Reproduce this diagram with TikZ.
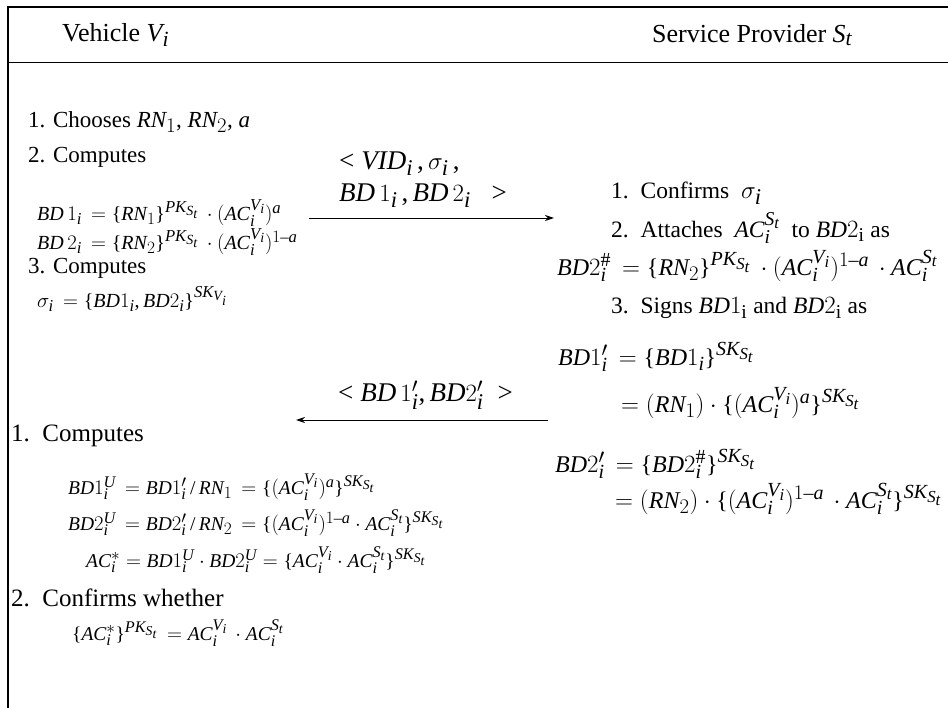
\documentclass[tikz,border=0pt]{standalone}
\usepackage{fontspec}
\setmainfont{Liberation Serif}
\usepackage[italic]{mathastext}
\usetikzlibrary{arrows.meta}
\begin{document}
\begin{tikzpicture}[x=1pt,y=-1pt,
  hdr/.style={anchor=west,inner sep=0pt,font=\fontsize{26}{30}\selectfont},
  txt/.style={anchor=west,inner sep=0pt,font=\fontsize{23}{27}\selectfont},
  txb/.style={anchor=west,inner sep=0pt,font=\fontsize{25}{29}\selectfont},
  txr/.style={anchor=west,inner sep=0pt,font=\fontsize{23.5}{27}\selectfont},
  eqs/.style={anchor=west,inner sep=0pt,font=\fontsize{20}{24}\selectfont},
  eqf/.style={anchor=west,inner sep=0pt,font=\fontsize{19.5}{23}\selectfont},
  eqb/.style={anchor=west,inner sep=0pt,font=\fontsize{24}{28}\selectfont},
  msg/.style={anchor=west,inner sep=0pt,font=\fontsize{27}{31}\selectfont},
  frame/.style={line width=2.5pt},
  sep/.style={line width=1pt},
  flow/.style={-{Stealth[length=9pt,width=6pt]},line width=0.9pt}]
\useasboundingbox (0,0) rectangle (948,708);

% outer frame and header rule
\draw[frame] (8,708) -- (8,7) -- (948,7);
\draw[sep] (8,63) -- (948,63);

% column headers
\node[hdr] (hv) at (62,35) {Vehicle $V_i$};
\node[hdr] (hs) at (652,35) {Service Provider $S_t$};

% vehicle: first phase
\node[txt] (c1) at (28,122) {1. Chooses $RN_1$, $RN_2$, $a$};
\node[txt] (c2) at (28,157) {2. Computes};
\node[eqs] (e1) at (37,213) {$BD\,1_i\,=\{RN_1\}^{PK_{S_t}}\,\cdot(AC_i^{V_i})^a$};
\node[eqs] (e2) at (37,242) {$BD\,2_i\,=\{RN_2\}^{PK_{S_t}}\,\cdot(AC_i^{V_i})^{1-a}$};
\node[txt] (c3) at (28,268) {3. Computes};
\node[eqs] (e3) at (37,299) {$\sigma_i\,=\{BD1_i, BD2_i\}^{SK_{V_i}}$};

% first message
\coordinate (m1s) at (309,218);
\coordinate (m1e) at (554,218);
\draw[flow] (m1s) -- (m1e);
\node[msg] (l1a) at (339,164) {$<VID_i\,,\sigma_i\,,$};
\node[msg] (l1b) at (339,196) {$BD\,1_i\,, BD\,2_i\;\;>$};

% service provider
\node[txr] (r1) at (611,193) {1.\ \ Confirms \ {\fontsize{27}{30}\selectfont$\sigma_i$}};
\node[txr] (r2) at (611,228) {2.\ \ Attaches \ $AC_i^{S_t}$\ \ to $BD2_{\mathrm{i}}$ as};
\node[eqb] (r3) at (557,266) {$BD2_i^{\#}\,=\{RN_2\}^{PK_{S_t}}\,\cdot(AC_i^{V_i})^{1-a}\,\cdot AC_i^{S_t}$};
\node[txr] (r4) at (611,308) {3.\ \ Signs $BD1_{\mathrm{i}}$ and $BD2_{\mathrm{i}}$ as};
\node[eqb] (r5) at (558,357) {$BD1_i^{\prime}\,=\{BD1_i\}^{SK_{S_t}}$};
\node[eqb] (r6) at (621,403) {$=(RN_1)\cdot\{(AC_i^{V_i})^a\}^{SK_{S_t}}$};
\node[eqb] (r7) at (555,464) {$BD2_i^{\prime}\,=\{BD2_i^{\#}\}^{SK_{S_t}}$};
\node[eqb] (r8) at (615,499) {$=(RN_2)\cdot\{(AC_i^{V_i})^{1-a}\,\cdot AC_i^{S_t}\}^{SK_{S_t}}$};

% second message
\coordinate (m2s) at (548,420);
\coordinate (m2e) at (296,420);
\draw[flow] (m2s) -- (m2e);
\node[msg] (l2) at (338,395) {$<BD\,1_i^{\prime}, BD2_i^{\prime}\;>$};

% vehicle: second phase
\node[txb] (d1) at (11,436) {1.\ \ Computes};
\node[eqf] (f1) at (68,487) {$BD1_i^U\,=BD1_i^{\prime}\,/\,RN_1\,=\{(AC_i^{V_i})^a\}^{SK_{S_t}}$};
\node[eqf] (f2) at (68,523) {$BD2_i^U\,=BD2_i^{\prime}\,/\,RN_2\,=\{(AC_i^{V_i})^{1-a}\cdot AC_i^{S_t}\}^{SK_{S_t}}$};
\node[eqf] (f3) at (86,560) {$AC_i^{*}=BD1_i^U\cdot BD2_i^U=\{AC_i^{V_i}\cdot AC_i^{S_t}\}^{SK_{S_t}}$};
\node[txb] (d2) at (11,598) {2.\ \ Confirms whether};
\node[eqf] (f4) at (72,633) {$\{AC_i^{*}\}^{PK_{S_t}}\,=AC_i^{V_i}\,\cdot AC_i^{S_t}$};
\end{tikzpicture}
\end{document}
